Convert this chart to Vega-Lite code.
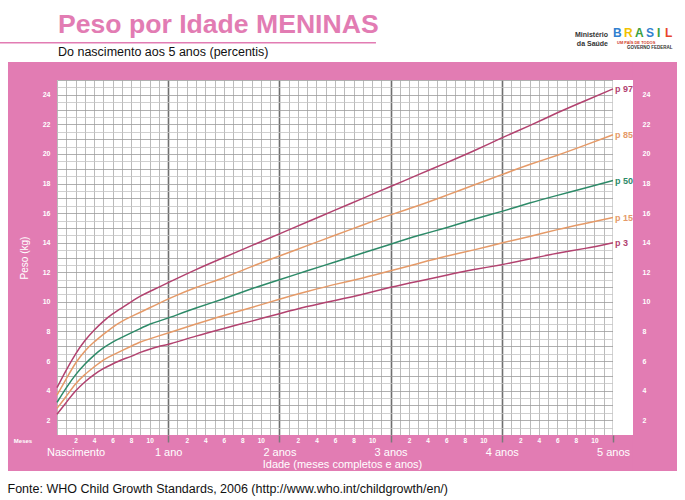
{
  "$schema": "https://vega.github.io/schema/vega-lite/v6.json",
  "width": 556,
  "height": 355,
  "autosize": {"type": "none"},
  "padding": {"left": 57, "top": 80, "right": 72, "bottom": 65},
  "background": "white",
  "config": {"font": "Liberation Sans", "view": {"stroke": null}},
  "datasets": {
    "who": [
      {"m": 0, "p 3": 2.4, "p 15": 2.8, "p 50": 3.2, "p 85": 3.7, "p 97": 4.2},
      {"m": 1, "p 3": 3.2, "p 15": 3.6, "p 50": 4.2, "p 85": 4.8, "p 97": 5.4},
      {"m": 2, "p 3": 4.0, "p 15": 4.5, "p 50": 5.1, "p 85": 5.9, "p 97": 6.5},
      {"m": 3, "p 3": 4.6, "p 15": 5.1, "p 50": 5.8, "p 85": 6.7, "p 97": 7.4},
      {"m": 4, "p 3": 5.1, "p 15": 5.6, "p 50": 6.4, "p 85": 7.3, "p 97": 8.1},
      {"m": 5, "p 3": 5.5, "p 15": 6.1, "p 50": 6.9, "p 85": 7.8, "p 97": 8.7},
      {"m": 6, "p 3": 5.8, "p 15": 6.4, "p 50": 7.3, "p 85": 8.3, "p 97": 9.2},
      {"m": 7, "p 3": 6.1, "p 15": 6.7, "p 50": 7.6, "p 85": 8.7, "p 97": 9.6},
      {"m": 8, "p 3": 6.3, "p 15": 7.0, "p 50": 7.9, "p 85": 9.0, "p 97": 10.0},
      {"m": 9, "p 3": 6.6, "p 15": 7.3, "p 50": 8.2, "p 85": 9.3, "p 97": 10.4},
      {"m": 10, "p 3": 6.8, "p 15": 7.5, "p 50": 8.5, "p 85": 9.6, "p 97": 10.7},
      {"m": 11, "p 3": 7.0, "p 15": 7.7, "p 50": 8.7, "p 85": 9.9, "p 97": 11.0},
      {"m": 12, "p 3": 7.1, "p 15": 7.9, "p 50": 8.9, "p 85": 10.2, "p 97": 11.3},
      {"m": 15, "p 3": 7.7, "p 15": 8.5, "p 50": 9.6, "p 85": 11.0, "p 97": 12.2},
      {"m": 18, "p 3": 8.2, "p 15": 9.1, "p 50": 10.2, "p 85": 11.6, "p 97": 13.0},
      {"m": 21, "p 3": 8.7, "p 15": 9.6, "p 50": 10.9, "p 85": 12.4, "p 97": 13.8},
      {"m": 24, "p 3": 9.2, "p 15": 10.2, "p 50": 11.5, "p 85": 13.1, "p 97": 14.6},
      {"m": 27, "p 3": 9.7, "p 15": 10.7, "p 50": 12.1, "p 85": 13.8, "p 97": 15.4},
      {"m": 30, "p 3": 10.1, "p 15": 11.2, "p 50": 12.7, "p 85": 14.5, "p 97": 16.2},
      {"m": 33, "p 3": 10.5, "p 15": 11.6, "p 50": 13.3, "p 85": 15.2, "p 97": 17.0},
      {"m": 36, "p 3": 11.0, "p 15": 12.1, "p 50": 13.9, "p 85": 15.9, "p 97": 17.8},
      {"m": 39, "p 3": 11.4, "p 15": 12.6, "p 50": 14.5, "p 85": 16.5, "p 97": 18.6},
      {"m": 42, "p 3": 11.8, "p 15": 13.1, "p 50": 15.0, "p 85": 17.2, "p 97": 19.4},
      {"m": 45, "p 3": 12.2, "p 15": 13.5, "p 50": 15.6, "p 85": 17.9, "p 97": 20.2},
      {"m": 48, "p 3": 12.5, "p 15": 14.0, "p 50": 16.1, "p 85": 18.6, "p 97": 21.1},
      {"m": 51, "p 3": 12.9, "p 15": 14.4, "p 50": 16.7, "p 85": 19.3, "p 97": 21.9},
      {"m": 54, "p 3": 13.3, "p 15": 14.9, "p 50": 17.2, "p 85": 19.9, "p 97": 22.8},
      {"m": 57, "p 3": 13.6, "p 15": 15.3, "p 50": 17.7, "p 85": 20.6, "p 97": 23.6},
      {"m": 60, "p 3": 14.0, "p 15": 15.7, "p 50": 18.2, "p 85": 21.3, "p 97": 24.4}
    ]
  },
  "resolve": {"axis": {"x": "independent", "y": "independent"}},
  "layer": [
    {
      "data": {"values": [{}]},
      "mark": {"type": "rect", "color": "#e27cb3"},
      "encoding": {
        "x": {"datum": -5.288, "type": "quantitative", "scale": {"domain": [0, 60], "nice": false, "zero": false},
          "axis": {"orient": "bottom", "values": [0,1,2,3,4,5,6,7,8,9,10,11,12,13,14,15,16,17,18,19,20,21,22,23,24,25,26,27,28,29,30,31,32,33,34,35,36,37,38,39,40,41,42,43,44,45,46,47,48,49,50,51,52,53,54,55,56,57,58,59,60],
            "grid": true, "gridColor": "#a9a9a9", "gridWidth": 0.8, "labels": false, "ticks": false, "domain": false, "title": null, "zindex": 0}},
        "x2": {"datum": 66.906},
        "y": {"datum": 25, "type": "quantitative", "scale": {"domain": [1, 25], "nice": false, "zero": false},
          "axis": {"orient": "left", "values": [1.5,2.5,3.5,4.5,5.5,6.5,7.5,8.5,9.5,10.5,11.5,12.5,13.5,14.5,15.5,16.5,17.5,18.5,19.5,20.5,21.5,22.5,23.5,24.5],
            "grid": true, "gridColor": "#c4c4c4", "gridWidth": 0.8, "labels": false, "ticks": false, "domain": false, "title": null, "zindex": 0}},
        "y2": {"datum": 26.217}
      }
    },
    {
      "data": {"values": [{}]},
      "mark": {"type": "rect", "color": "#e27cb3"},
      "encoding": {
        "x": {"datum": -5.288, "type": "quantitative",
          "axis": {"orient": "bottom", "values": [12, 24, 36, 48, 60], "grid": true, "gridColor": "#6f6f6f", "gridWidth": 1.6, "labels": false, "ticks": false, "domain": false, "title": null, "zindex": 0}},
        "x2": {"datum": 66.906},
        "y": {"datum": -1.434, "type": "quantitative",
          "axis": {"orient": "left", "values": [1,2,3,4,5,6,7,8,9,10,11,12,13,14,15,16,17,18,19,20,21,22,23,24,25],
            "grid": true, "gridColor": "#9c9c9c", "gridWidth": 0.8, "labels": false, "ticks": false, "domain": false, "title": null, "zindex": 0}},
        "y2": {"datum": 1}
      }
    },
    {
      "data": {"values": [{}]},
      "mark": {"type": "rect", "color": "#e27cb3"},
      "encoding": {
        "x": {"datum": -5.288, "type": "quantitative",
          "axis": {"orient": "bottom", "values": [2,4,6,8,10,14,16,18,20,22,26,28,30,32,34,38,40,42,44,46,50,52,54,56,58],
            "labelExpr": "datum.value % 12", "labelColor": "white", "labelFontSize": 6.5, "labelFontWeight": "bold",
            "labelPadding": 2, "labelFlush": false, "labelOverlap": false, "grid": false, "ticks": false, "domain": false, "title": null, "zindex": 1}},
        "x2": {"datum": 0},
        "y": {"datum": -1.434, "type": "quantitative",
          "axis": {"orient": "left", "values": [2,4,6,8,10,12,14,16,18,20,22,24], "labelColor": "white", "labelFontSize": 7, "labelFontWeight": "bold",
            "labelPadding": 7, "labelOverlap": false, "grid": false, "ticks": false, "domain": false,
            "title": "Peso (kg)", "titleColor": "white", "titleFontSize": 10, "titleFontWeight": "normal", "titlePadding": 13, "zindex": 1}},
        "y2": {"datum": 26.217}
      }
    },
    {
      "data": {"values": [{}]},
      "mark": {"type": "rect", "color": "#e27cb3"},
      "encoding": {
        "x": {"datum": 62.158, "type": "quantitative",
          "axis": {"orient": "bottom", "values": [2, 12, 24, 36, 48, 60],
            "labelExpr": "datum.value == 2 ? 'Nascimento' : (datum.value == 12 ? '1 ano' : (datum.value / 12) + ' anos')",
            "labelColor": "white", "labelFontSize": 11, "labelPadding": 11, "labelFlush": false, "labelOverlap": false,
            "grid": false, "ticks": false, "domain": false,
            "title": "Idade (meses completos e anos)", "titleColor": "white", "titleFontSize": 11, "titleFontWeight": "normal", "titlePadding": 1, "titleX": 285, "zindex": 1}},
        "x2": {"datum": 66.906},
        "y": {"datum": -1.434, "type": "quantitative",
          "axis": {"orient": "right", "values": [2,4,6,8,10,12,14,16,18,20,22,24], "labelColor": "white", "labelFontSize": 7, "labelFontWeight": "bold",
            "labelPadding": 29, "labelOverlap": false, "grid": false, "ticks": false, "domain": false, "title": null, "zindex": 1}},
        "y2": {"datum": 26.217}
      }
    },
    {
      "data": {"values": [{}]},
      "mark": {"type": "rect", "color": "white"},
      "encoding": {
        "x": {"datum": 60, "type": "quantitative",
          "axis": {"orient": "bottom", "values": [12, 24, 36, 48, 60], "labels": false, "grid": false, "domain": false,
            "ticks": true, "tickSize": 7, "tickColor": "#7a7a7a", "tickWidth": 1.5, "title": null, "zindex": 1}},
        "x2": {"datum": 62.158},
        "y": {"datum": 1, "type": "quantitative", "axis": null},
        "y2": {"datum": 25}
      }
    },
    {
      "data": {"name": "who"},
      "transform": [{"fold": ["p 3", "p 15", "p 50", "p 85", "p 97"], "as": ["p", "w"]}],
      "mark": {"type": "line", "interpolate": "basis", "strokeWidth": 1.5},
      "encoding": {
        "x": {"field": "m", "type": "quantitative", "axis": null},
        "y": {"field": "w", "type": "quantitative", "axis": null},
        "color": {"field": "p", "type": "nominal", "legend": null,
          "scale": {"domain": ["p 3", "p 15", "p 50", "p 85", "p 97"], "range": ["#b2426f", "#e59a68", "#2d8a68", "#e59a68", "#b2426f"]}}
      }
    },
    {
      "data": {"name": "who"},
      "transform": [{"fold": ["p 3", "p 15", "p 50", "p 85", "p 97"], "as": ["p", "w"]}, {"filter": "datum.m == 60"}],
      "mark": {"type": "text", "align": "left", "baseline": "middle", "dx": 2, "fontSize": 9, "fontWeight": "bold"},
      "encoding": {
        "x": {"field": "m", "type": "quantitative", "axis": null},
        "y": {"field": "w", "type": "quantitative", "axis": null},
        "text": {"field": "p"},
        "color": {"field": "p", "type": "nominal", "legend": null}
      }
    },
    {
      "data": {"values": [{}]},
      "mark": {"type": "text", "align": "center", "baseline": "middle", "fontSize": 6, "fontWeight": "bold", "color": "white", "text": "Meses"},
      "encoding": {"x": {"datum": -3.67, "type": "quantitative", "axis": null}, "y": {"datum": 0.594, "type": "quantitative", "axis": null}}
    },
    {
      "data": {"values": [{}]},
      "mark": {"type": "text", "align": "left", "baseline": "alphabetic", "fontSize": 26.6, "fontWeight": "bold", "color": "#e27cb3", "text": "Peso por Idade MENINAS"},
      "encoding": {"x": {"datum": 0.108, "type": "quantitative", "axis": null}, "y": {"datum": 28.18, "type": "quantitative", "axis": null}}
    },
    {
      "data": {"values": [{}]},
      "mark": {"type": "rule", "color": "#e27cb3", "strokeWidth": 1.5},
      "encoding": {"x": {"datum": -6.151, "type": "quantitative", "axis": null}, "x2": {"datum": 34.42}, "y": {"datum": 27.52, "type": "quantitative", "axis": null}}
    },
    {
      "data": {"values": [{}]},
      "mark": {"type": "text", "align": "left", "baseline": "alphabetic", "fontSize": 12.5, "color": "#111111", "text": "Do nascimento aos 5 anos (percentis)"},
      "encoding": {"x": {"datum": 0.108, "type": "quantitative", "axis": null}, "y": {"datum": 26.656, "type": "quantitative", "axis": null}}
    },
    {
      "data": {"values": [{}]},
      "mark": {"type": "text", "align": "left", "baseline": "alphabetic", "fontSize": 12.5, "color": "#111111", "text": "Fonte: WHO Child Growth Standards, 2006 (http://www.who.int/childgrowth/en/)"},
      "encoding": {"x": {"datum": -5.342, "type": "quantitative", "axis": null}, "y": {"datum": -2.921, "type": "quantitative", "axis": null}}
    },
    {
      "data": {"values": [{}]},
      "mark": {"type": "text", "align": "right", "baseline": "alphabetic", "fontSize": 7, "fontWeight": "bold", "color": "#333333", "text": "Ministério"},
      "encoding": {"x": {"datum": 59.46, "type": "quantitative", "axis": null}, "y": {"datum": 27.91, "type": "quantitative", "axis": null}}
    },
    {
      "data": {"values": [{}]},
      "mark": {"type": "text", "align": "right", "baseline": "alphabetic", "fontSize": 7, "fontWeight": "bold", "color": "#333333", "text": "da Saúde"},
      "encoding": {"x": {"datum": 59.46, "type": "quantitative", "axis": null}, "y": {"datum": 27.33, "type": "quantitative", "axis": null}}
    },
    {
      "data": {"values": [{}]},
      "mark": {"type": "text", "align": "left", "baseline": "alphabetic", "fontSize": 12, "fontWeight": "bold", "color": "#2f7fd0", "text": "B", "dx": 0},
      "encoding": {"x": {"datum": 60, "type": "quantitative", "axis": null}, "y": {"datum": 27.88, "type": "quantitative", "axis": null}}
    },
    {
      "data": {"values": [{}]},
      "mark": {"type": "text", "align": "left", "baseline": "alphabetic", "fontSize": 12, "fontWeight": "bold", "color": "#f2c200", "text": "R", "dx": 11},
      "encoding": {"x": {"datum": 60, "type": "quantitative", "axis": null}, "y": {"datum": 27.88, "type": "quantitative", "axis": null}}
    },
    {
      "data": {"values": [{}]},
      "mark": {"type": "text", "align": "left", "baseline": "alphabetic", "fontSize": 12, "fontWeight": "bold", "color": "#3aa040", "text": "A", "dx": 22},
      "encoding": {"x": {"datum": 60, "type": "quantitative", "axis": null}, "y": {"datum": 27.88, "type": "quantitative", "axis": null}}
    },
    {
      "data": {"values": [{}]},
      "mark": {"type": "text", "align": "left", "baseline": "alphabetic", "fontSize": 12, "fontWeight": "bold", "color": "#2f7fd0", "text": "S", "dx": 33},
      "encoding": {"x": {"datum": 60, "type": "quantitative", "axis": null}, "y": {"datum": 27.88, "type": "quantitative", "axis": null}}
    },
    {
      "data": {"values": [{}]},
      "mark": {"type": "text", "align": "left", "baseline": "alphabetic", "fontSize": 12, "fontWeight": "bold", "color": "#3aa040", "text": "I", "dx": 44},
      "encoding": {"x": {"datum": 60, "type": "quantitative", "axis": null}, "y": {"datum": 27.88, "type": "quantitative", "axis": null}}
    },
    {
      "data": {"values": [{}]},
      "mark": {"type": "text", "align": "left", "baseline": "alphabetic", "fontSize": 12, "fontWeight": "bold", "color": "#e8452c", "text": "L", "dx": 52},
      "encoding": {"x": {"datum": 60, "type": "quantitative", "axis": null}, "y": {"datum": 27.88, "type": "quantitative", "axis": null}}
    },
    {
      "data": {"values": [{}]},
      "mark": {"type": "text", "align": "left", "baseline": "alphabetic", "fontSize": 4, "fontWeight": "bold", "color": "#d0402a", "text": "UM PAÍS DE TODOS", "dx": 4},
      "encoding": {"x": {"datum": 60, "type": "quantitative", "axis": null}, "y": {"datum": 27.44, "type": "quantitative", "axis": null}}
    },
    {
      "data": {"values": [{}]},
      "mark": {"type": "text", "align": "left", "baseline": "alphabetic", "fontSize": 4.5, "fontWeight": "bold", "color": "#333333", "text": "GOVERNO FEDERAL", "dx": 14},
      "encoding": {"x": {"datum": 60, "type": "quantitative", "axis": null}, "y": {"datum": 27.1, "type": "quantitative", "axis": null}}
    }
  ]
}
